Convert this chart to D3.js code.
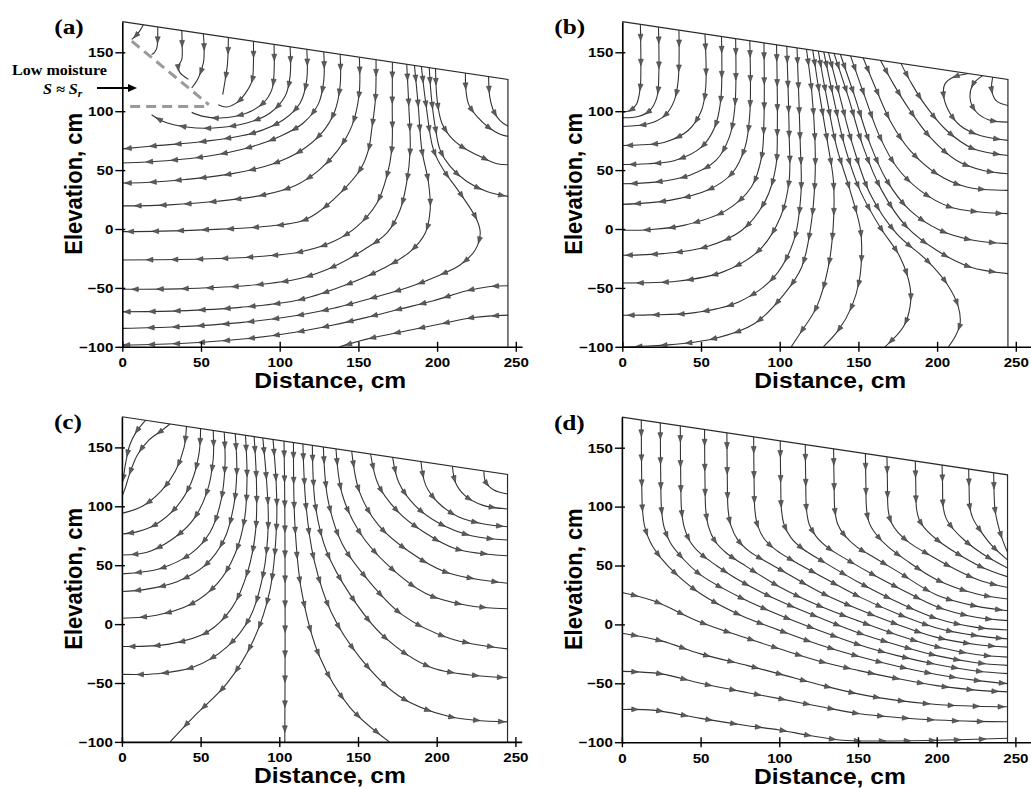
<!DOCTYPE html>
<html>
<head>
<meta charset="utf-8">
<script src="https://cdn.jsdelivr.net/npm/d3@7"></script>
<style>
  html, body { margin: 0; padding: 0; background: #fff; }
  svg { display: block; }
</style>
</head>
<body>
<svg id="fig" width="1031" height="789"></svg>
<script>
// ---------------------------------------------------------------
// Axis ticks, titles and panel labels
// ---------------------------------------------------------------
const xTickValues = [0, 50, 100, 150, 200, 250];
const yTickValues = [-100, -50, 0, 50, 100, 150];
const panelLabels = ["(a)", "(b)", "(c)", "(d)"];
const xTitle = "Distance, cm";
const yTitle = "Elevation, cm";

// Flow domain: sloping ground surface, vertical right wall, base at -100 cm
const groundSurface = [[0, 176], [245, 127]];
const domainRight = 245;
const domainBottom = -100;

// Low-moisture zone outline (panel a)
const dryZoneDiagonal = [[6, 159.5], [55, 105.5]];
const dryZoneBase = [[5, 104], [55, 104]];

// ---------------------------------------------------------------
// Streamlines, each listed in flow order as [distance, elevation] (cm)
// ---------------------------------------------------------------
const streamsA = [
  [[13.4,173.3],[11,168],[8.5,164],[6,161]],
  [[22.5,171.5],[22.5,162],[22,154],[20.5,150],[18.6,148]],
  [[37.8,168.4],[38,157],[37.8,144],[35.5,137.5],[36.5,133],[42,127]],
  [[51.5,165.7],[52,152],[51.5,141],[48.3,128.2],[44.1,119.7]],
  [[67.4,162.5],[66.8,140],[64.7,121.1],[63.8,114]],
  [[83.3,159.3],[83.3,140],[82.5,126],[79,116.8],[73.8,108.3],[66.4,103.6],[61,105.5]],
  [[96.4,156.7],[96.4,132.5],[95,118.3],[89.6,107],[79.1,98.5],[62.1,94.2],[51.5,95.6],[44.1,99]],
  [[106.6,154.7],[106.6,129.6],[103.4,112.6],[93.9,98.5],[79.1,90],[57.9,85.7],[40.9,86.6],[26.1,91.3],[18.6,97]],
  [[117.2,152.6],[117.2,127],[113,107],[102.4,92.8],[83.3,81.5],[51.5,74.3],[19.7,70.5],[0,68]],
  [[128,150.4],[128,126],[124.5,106],[115,90],[100,78.5],[80,69],[55,62],[28,58],[0,56]],
  [[138.4,148.3],[138.4,122],[135,100],[127,82],[113,66],[95,55],[70,47],[40,42],[15,39.5],[0,39]],
  [[150.6,145.9],[150.5,115],[146,88],[137,67],[125,50],[110,37],[90,29],[60,23.5],[30,20.5],[0,19.6]],
  [[161.2,143.8],[160.8,110],[158.5,85],[156.4,67.2],[151.1,50.3],[138.4,30.4],[123.5,13.4],[112.9,6.3],[85,1.5],[55,-0.5],[25,-1.8],[0,-2.2]],
  [[171.6,141.7],[171.5,105],[171.2,67.2],[168,44.6],[161.7,21.9],[149,2],[134.1,-10.7],[112.9,-19.5],[85,-23.5],[50,-25.5],[0,-26.3]],
  [[180.7,139.9],[182,105],[182.9,67.2],[180.7,39.7],[176.5,16.3],[168,-3.6],[153.2,-17.8],[134.1,-32],[112.9,-42],[80,-48],[40,-50.6],[0,-51.2]],
  [[185.6,138.9],[188,105],[190.3,67.2],[194.5,39.7],[195.6,16.3],[192.4,-3.6],[182.9,-19.2],[165.9,-33.4],[144.7,-46.1],[112.9,-60],[75,-66.5],[35,-69.5],[0,-70.3]],
  [[190,138],[193,105],[197.7,67.2],[204,50.3],[214.6,30.4],[225.3,7.7],[227.4,-3.6],[224.2,-17.8],[214.6,-30.5],[201.9,-39],[182.8,-49],[161.6,-57.5],[134.1,-67.3],[112.9,-73],[75,-79.5],[35,-83],[0,-84.4]],
  [[245.3,-48.2],[233.7,-48.8],[218.9,-52.4],[197.7,-60.9],[176.5,-67.9],[155.3,-75],[134.1,-81.5],[112.9,-87],[80,-93],[40,-97],[0,-98.6]],
  [[245.3,-73.1],[223.1,-75.1],[201.9,-80.7],[180.7,-86.4],[155.3,-93.5],[138,-100]],
  [[232.7,129.5],[233.5,112],[236,100],[240,92],[245.3,87.1]],
  [[218,132.4],[218.3,118],[220,106],[225,96],[233,86],[240,80.5],[245.3,78.6]],
  [[199,136.2],[200,110],[203,90],[210,76],[218.9,67.2],[227.4,61.6],[238,55.4],[245.3,54.5]],
  [[195,137],[196.5,110],[199,85],[201.9,67.2],[208.3,53.1],[218.9,40.3],[231.6,31.8],[245.3,27.6]]
];

const streamsB = [
  [[11.5,173.7],[11.8,137.3],[11.4,120.3],[9.1,106.2],[4.9,100.6],[0,99.2]],
  [[23,171.4],[23.2,131.6],[22,111.9],[17.5,100.6],[10.1,95.5],[0,94.4]],
  [[36,168.8],[35.5,126],[33,109],[27,96.3],[16.5,89.3],[0,87]],
  [[52.5,165.5],[53,120.3],[50.3,100.6],[41.8,83.6],[27,73.7],[12.3,71.5],[0,70.9]],
  [[63,163.4],[62.5,109],[58.7,86.4],[50.3,69.5],[33.4,58.2],[16.5,55.4],[0,54.8]],
  [[72,161.6],[71.5,103.4],[68,78],[59.5,58.2],[42.5,45.5],[21,39.8],[0,38.4]],
  [[81,159.8],[81,97.7],[78,69.5],[69.5,46.9],[54,32.8],[30,24.3],[0,20.9]],
  [[90,158],[90,92.1],[88.5,61],[82,35.6],[66,15.8],[39,3.1],[17,-0.6],[0,-1.1]],
  [[98,156.4],[98.5,86.4],[97.5,52.5],[91,24.3],[76,-1.1],[53,-15.3],[26,-20.9],[0,-22.3]],
  [[104.5,155.1],[106,80.8],[106,41.2],[100.5,10.2],[87,-18],[64,-36.4],[34.5,-44.4],[0,-45.8]],
  [[111,153.8],[113,75.2],[113.5,29.9],[109,-9.6],[96.5,-40.7],[74,-61.9],[45,-71.2],[17,-72.9],[0,-73.2]],
  [[117,152.6],[120.3,117.5],[122.4,75.2],[122.4,41.3],[119.7,1.7],[114,-32.2],[103.1,-54.8],[84.1,-80.2],[58.7,-92.9],[27,-98.6],[2,-100]],
  [[121,151.8],[125.6,111.9],[130.9,69.5],[134.1,41.3],[134.1,4.5],[130.9,-32.2],[123.5,-66.1],[112.9,-88.7],[107.3,-100]],
  [[124.5,151.1],[129.8,111.9],[136.2,69.5],[144.7,32.8],[151,1.7],[152.1,-15.3],[150.6,-43.5],[145.7,-66.1],[137.3,-85.9],[127.7,-100]],
  [[128,150.4],[134.1,111.9],[141.5,69.5],[151,32.8],[163.7,1.7],[176.4,-23.7],[182.8,-49.1],[182.8,-66.1],[178.6,-83],[166.9,-100]],
  [[131,149.8],[138.3,111.9],[146.8,69.5],[157.4,30],[174.3,-4],[193.4,-26.5],[206.1,-46.3],[213.5,-66.1],[214.6,-80.2],[211.4,-91.5],[207.2,-100]],
  [[134.5,149.1],[143.6,111.9],[153.1,69.5],[164.8,32.8],[180.7,1.7],[199.7,-18.1],[220.9,-32.2],[245.3,-37.9]],
  [[138.5,148.3],[147.8,111.9],[157.4,72.3],[168,41.3],[182.8,15.8],[201.9,-1.1],[223,-9.6],[245.3,-12.4]],
  [[145,147],[154.2,111.9],[163.7,78],[174.3,52.6],[189.1,32.8],[208.2,18.7],[227.3,14.4],[245.3,13]],
  [[153,145.4],[161.6,117.5],[171.2,89.3],[182.8,66.7],[199.7,46.9],[218.8,35.6],[245.3,32.8]],
  [[164,143.2],[172.2,123.2],[182.8,100.6],[195.5,78],[212.4,58.2],[229.4,49.7],[245.3,46.9]],
  [[177,140.6],[183.9,123.2],[193.4,103.4],[206.1,83.6],[223,68.1],[245.3,62.4]],
  [[220,132],[210.3,128.8],[205,123.2],[204,114.7],[207.2,100.6],[214.6,87.9],[227.3,79.4],[245.3,75.2]],
  [[229,130.2],[223,123.2],[220.9,111.9],[224.1,100.6],[232.6,92.7],[245.3,90.7]],
  [[235.3,129],[234.7,117.5],[237.9,108.5],[245.3,104.8]]
];

const streamsC = [
  [[15,173],[9,163],[5,152],[2.3,136],[1,125],[0,117.5]],
  [[30.5,169.9],[25,164],[17,156],[10,144],[5,128],[2,115],[0,108.2]],
  [[41,167.8],[39.5,150],[34,130],[25,113],[13,100],[0,94]],
  [[50,166],[49,145],[44,120],[35,100],[22,85],[10,78.5],[0,76.5]],
  [[58,164.4],[58,140],[54,112],[45,88],[32,72],[16,61],[0,58.7]],
  [[65,163],[65.5,135],[63,105],[56,78],[44,60],[24,47],[0,42.6]],
  [[72,161.6],[73,130],[71,100],[65,72],[53,50],[35,36],[15,29.5],[0,27.7]],
  [[78.5,160.3],[79.5,125],[78,90],[72,60],[61,35],[44,17],[22,7.5],[0,5]],
  [[84,159.2],[85.5,120],[85,80],[80,45],[70,14],[54,-7],[30,-17],[0,-19]],
  [[89.5,158.1],[92,120],[93,85],[89.8,42.6],[81.4,5.9],[66.6,-19.5],[45.4,-36.5],[22.2,-42.1],[0,-42.7]],
  [[96,156.8],[98,120],[98.3,85],[94,28.5],[83.5,-13.9],[66.6,-50.6],[45.4,-78.9],[30.6,-100]],
  [[103,155.4],[103.5,100],[103.7,0],[103.5,-100]],
  [[109,154.2],[109.9,85],[114.1,28.5],[125.7,-28],[144.7,-70.4],[170,-100]],
  [[115,153],[117,100],[122,55],[133,10],[151,-28],[176,-61],[208,-78.5],[245,-83]],
  [[121,151.8],[123,100],[130,62],[145,25],[166,-10],[197,-37],[245,-45.5]],
  [[128,150.4],[131,105],[140,68],[156,38],[178,8],[208,-12],[245,-21]],
  [[136,148.8],[140,110],[151,78],[169,50],[193,26],[219,16],[245,13]],
  [[146,146.8],[151,112],[163,84],[182,62],[206,44],[245,34.7]],
  [[158,144.4],[163,118],[175,96],[192,78],[212,64],[245,58]],
  [[172,141.6],[176,120],[186,101],[201,86],[222,75],[245,71.4]],
  [[190,138],[193,118],[201,103],[214,91],[230,85],[245,82.7]],
  [[210,134],[212,120],[218,109],[229,101],[245,97.7]],
  [[230,130],[231,121],[236,114],[245,110.4]]
];

const streamsD = [
  [[12.3,173.5],[12.6,120],[13.1,97],[14.5,83],[18,70],[25,56],[35,42],[50,26],[75,8],[100,-5],[125,-17],[150,-27],[175,-35.5],[200,-42.5],[225,-47.5],[245.3,-50.3]],
  [[24.4,171.1],[24.7,120],[25.2,97],[26.7,83],[30.5,70],[38,57],[50,42],[75,23],[100,8],[125,-5],[150,-17],[175,-26.5],[200,-34],[225,-39.5],[245.3,-41.8]],
  [[37.1,168.6],[37.4,120],[37.9,97],[39.5,83],[43.5,70],[50,60],[60,50],[75,37],[100,20],[125,6],[150,-7],[175,-17.5],[200,-26.5],[225,-32.5],[245.3,-34.8]],
  [[52.5,165.5],[52.8,120],[53.3,97],[55,83],[59,71],[66,61],[77,51],[100,32],[125,16],[150,3],[175,-9],[200,-19],[225,-25.5],[245.3,-27.8]],
  [[66.7,162.7],[67,120],[67.5,97],[69.2,84],[73.5,72],[81,62],[92,53],[100,47],[125,28],[150,13],[175,0],[200,-11],[225,-17],[245.3,-19.3]],
  [[83.7,159.3],[84,120],[84.5,97],[86.2,84],[90.5,72.5],[98,63],[110,53],[125,42],[150,24],[175,9],[200,-3],[225,-9.5],[245.3,-12.3]],
  [[100.6,155.9],[100.9,120],[101.4,97],[103.1,84.5],[107.5,73.5],[115,64],[127,54],[150,36],[175,19],[200,5],[225,-2.5],[245.3,-4.7]],
  [[116.5,152.7],[116.8,120],[117.3,97],[119,85],[123.5,74.5],[131,65],[143,55],[160,42],[180,28],[200,15],[225,6],[245.3,3.2]],
  [[134.5,149.1],[134.8,120],[135.3,97],[137,85.5],[141.5,75.5],[149,66],[160,57],[175,45],[200,25],[225,15.5],[245.3,11.6]],
  [[154.7,145.1],[155,120],[155.5,97],[157.2,86],[161.5,76.5],[169,66],[180,55],[200,38],[225,26],[245.3,21.5]],
  [[168.4,142.3],[168.7,120],[169.2,97],[171,87],[175.5,78],[183,69],[194,60],[210,48],[228,37],[245.3,31.3]],
  [[186.4,138.7],[186.7,120],[187.2,98],[189,88.5],[193.5,80],[201,71],[212,61],[228,49],[245.3,40.3]],
  [[203.4,135.3],[203.7,120],[204.2,99],[206,90],[210.5,81],[218,71],[229,60],[245.3,47.6]],
  [[220.3,131.9],[220.6,115],[221.1,99],[223,90],[227.5,80],[235,67],[245.3,54.3]],
  [[236.2,128.8],[236.5,110],[237,98],[238.5,87],[241.5,73],[245.3,60.3]],
  [[0,27.1],[20,20],[50,1.8],[80,-12],[100,-20.7],[125,-31],[150,-39],[175,-46],[200,-52],[225,-55.8],[245.3,-57.3]],
  [[0,-7.5],[25,-14],[50,-25],[80,-35],[100,-42],[125,-51],[150,-59],[175,-64.5],[200,-68],[225,-69.5],[245.3,-69.9]],
  [[0,-39.9],[25,-42],[50,-50],[80,-58],[100,-63],[125,-69.5],[150,-75.6],[175,-79],[200,-81.2],[225,-82.3],[245.3,-82.6]],
  [[0,-72.2],[20,-72.8],[50,-79.8],[80,-86],[100,-89.6],[120,-94.5],[140,-98.3],[160,-99],[200,-98.4],[245.3,-96.7]]
];

// ---------------------------------------------------------------
// Layout
// ---------------------------------------------------------------
const svg = d3.select("#fig");
const plotW = 393.5;     // width of 0..250 cm
const plotH = 294.5;     // height of -100..150 cm
const textStretch = 1.12;
const sansFont = "'Liberation Sans', Arial, Helvetica, sans-serif";
const serifFont = "'Liberation Serif', 'Times New Roman', Times, serif";

const panels = [
  { label: panelLabels[0], left: 122.3, bottom: 346.8, streams: streamsA, axisEnd: 254 },
  { label: panelLabels[1], left: 622.3, bottom: 346.8, streams: streamsB, axisEnd: 262 },
  { label: panelLabels[2], left: 121.9, bottom: 741.9, streams: streamsC, axisEnd: 254 },
  { label: panelLabels[3], left: 621.9, bottom: 742.2, streams: streamsD, axisEnd: 262 }
];

function stretchText(sel, k) {
  sel.each(function () {
    const t = d3.select(this);
    const x0 = +t.attr("x") || 0;
    t.attr("transform", `translate(${x0 * (1 - k)},0) scale(${k},1)`);
  });
}

const defs = svg.append("defs");

panels.forEach((p, i) => {
  const x = d3.scaleLinear().domain([0, 250]).range([p.left, p.left + plotW]);
  const y = d3.scaleLinear().domain([-100, 150]).range([p.bottom, p.bottom - plotH]);
  const g = svg.append("g").attr("class", "panel");

  // clip to the flow domain
  const clipId = "domain-clip-" + i;
  const poly = [[0, domainBottom], groundSurface[0], groundSurface[1], [domainRight, domainBottom]];
  defs.append("clipPath").attr("id", clipId)
    .append("path")
    .attr("d", "M" + poly.map(d => x(d[0]) + "," + y(d[1])).join("L") + "Z");

  // streamlines
  const streamLine = d3.line()
    .x(d => x(d[0])).y(d => y(d[1]))
    .curve(d3.curveCatmullRom.alpha(0.5));

  const sg = g.append("g").attr("clip-path", `url(#${clipId})`);
  const paths = sg.selectAll("path.stream")
    .data(p.streams)
    .join("path")
    .attr("class", "stream")
    .attr("d", streamLine)
    .attr("fill", "none")
    .attr("stroke", "#333")
    .attr("stroke-width", 1.1);

  // flow-direction arrowheads spaced along each streamline
  const spacing = 25, firstAt = 13;
  const ag = sg.append("g").attr("class", "arrows");
  paths.each(function () {
    const L = this.getTotalLength();
    for (let s = firstAt; s < L - 4; s += spacing) {
      const a = this.getPointAtLength(s);
      const b = this.getPointAtLength(Math.min(s + 1.5, L));
      const ang = Math.atan2(b.y - a.y, b.x - a.x) * 180 / Math.PI;
      ag.append("path")
        .attr("d", "M3.4,0L-3.2,-2.5L-3.2,2.5Z")
        .attr("transform", `translate(${a.x},${a.y}) rotate(${ang})`)
        .attr("fill", "#5c5c5c")
        .attr("stroke", "#333")
        .attr("stroke-width", 0.5);
    }
  });

  // domain boundary: ground surface and right wall
  const edge = d3.line().x(d => x(d[0])).y(d => y(d[1]));
  g.append("path")
    .attr("d", edge([groundSurface[0], groundSurface[1], [domainRight, domainBottom]]))
    .attr("fill", "none")
    .attr("stroke", "#2a2a2a")
    .attr("stroke-width", 1.2);

  // low-moisture zone marking in panel (a)
  if (i === 0) {
    [dryZoneDiagonal, dryZoneBase].forEach(seg => {
      g.append("path")
        .attr("d", edge(seg))
        .attr("fill", "none")
        .attr("stroke", "#9a9a9a")
        .attr("stroke-width", 3)
        .attr("stroke-dasharray", "10,6");
    });
  }

  // x axis
  const xAxisScale = x.copy().domain([0, p.axisEnd]).range([x(0), x(p.axisEnd)]);
  const gx = g.append("g")
    .attr("transform", `translate(0,${y(-100)})`)
    .call(d3.axisBottom(xAxisScale).tickValues(xTickValues).tickSize(5).tickSizeOuter(0).tickPadding(6));
  gx.selectAll(".tick line").attr("y1", -5);
  // y axis
  const yAxisScale = y.copy().domain([-100, groundSurface[0][1]]).range([y(-100), y(groundSurface[0][1])]);
  const gy = g.append("g")
    .attr("transform", `translate(${x(0)},0)`)
    .call(d3.axisLeft(yAxisScale).tickValues(yTickValues).tickSize(7).tickSizeOuter(0).tickPadding(2));
  gy.selectAll(".tick line").attr("x1", 3);

  [gx, gy].forEach(ax => {
    ax.select(".domain").attr("stroke", "#000").attr("stroke-width", 1.6);
    ax.selectAll(".tick line").attr("stroke", "#000").attr("stroke-width", 1.4);
    ax.selectAll(".tick text")
      .attr("fill", "#000")
      .attr("font-family", sansFont)
      .attr("font-weight", "bold")
      .attr("font-size", 13.5);
    stretchText(ax.selectAll(".tick text"), textStretch);
  });

  // axis titles
  g.append("text")
    .attr("transform", `translate(${x(0) + 208},${y(-100) + 41.5}) scale(${textStretch},1)`)
    .attr("text-anchor", "middle")
    .attr("font-family", sansFont)
    .attr("font-weight", "bold")
    .attr("font-size", 22)
    .text(xTitle);
  g.append("text")
    .attr("transform", `translate(${x(0) - 40},${y(-100) - 163}) scale(${textStretch},1) rotate(-90)`)
    .attr("text-anchor", "middle")
    .attr("font-family", sansFont)
    .attr("font-weight", "bold")
    .attr("font-size", 22)
    .text(yTitle);

  // panel label
  g.append("text")
    .attr("x", x(0) - 68)
    .attr("y", y(-100) - 312.5)
    .attr("font-family", serifFont)
    .attr("font-weight", "bold")
    .attr("font-size", 22)
    .text(p.label)
    .call(stretchText, 1.15);

  // annotation for the low-moisture zone in panel (a)
  if (i === 0) {
    g.append("text")
      .attr("x", 12).attr("y", 75)
      .attr("font-family", serifFont)
      .attr("font-weight", "bold")
      .attr("font-size", 14)
      .text("Low moisture")
      .call(stretchText, 1.15);
    const st = g.append("text")
      .attr("x", 43).attr("y", 94)
      .attr("font-family", serifFont)
      .attr("font-weight", "bold")
      .attr("font-style", "italic")
      .attr("font-size", 14);
    st.append("tspan").text("S \u2248 S");
    st.append("tspan").attr("font-size", 10).attr("dy", 3).text("r");
    st.call(stretchText, 1.15);

    g.append("line")
      .attr("x1", 97).attr("y1", 88).attr("x2", 130).attr("y2", 88)
      .attr("stroke", "#000").attr("stroke-width", 1.8);
    g.append("path")
      .attr("d", "M137,88L128,84L128,92Z")
      .attr("fill", "#000");
  }
});
</script>
</body>
</html>
